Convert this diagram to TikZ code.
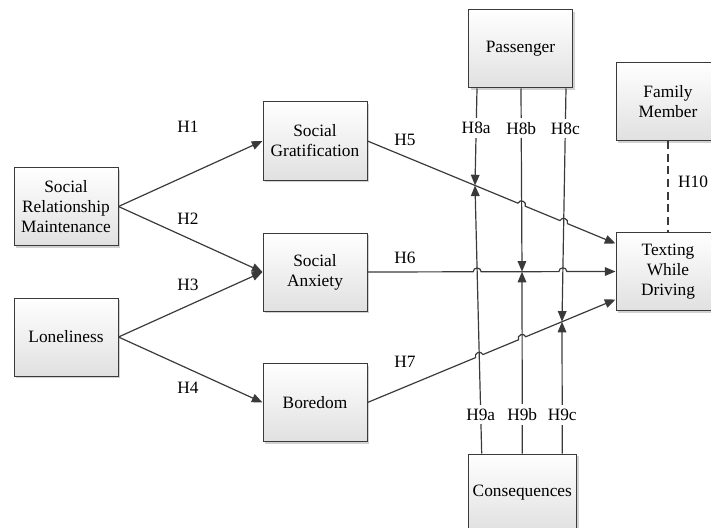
\documentclass[tikz,border=0pt]{standalone}
\usepackage{fontspec}
\setmainfont{Liberation Serif}
\usetikzlibrary{calc,intersections,shadows,arrows.meta}
\definecolor{ink}{HTML}{3A3A3A}
\tikzset{
  box/.style={draw=ink, line width=0.75pt, top color=white, bottom color=black!12,
    minimum width=78pt, minimum height=58.5pt, inner sep=1pt, align=center,
    font=\fontsize{13}{15}\selectfont,
    drop shadow={shadow xshift=1.8pt, shadow yshift=-1.8pt, fill=black!18, opacity=1}},
  conn/.style={draw=ink, line width=0.9pt},
  arr/.style={conn, -{Triangle[length=8pt,width=6.5pt]}},
  lbl/.style={font=\fontsize{13}{15}\selectfont, text=black, inner sep=1pt},
  cut/.style={lbl, fill=white, inner ysep=3pt},
  jump/.style={to path={-- ($(\tikztotarget)!#1!(\tikztostart)$) to[bend left=90, looseness=1.6] ($(\tikztotarget)!-#1!(\tikztostart)$)}},
}
\begin{document}
\begin{tikzpicture}[x=0.75pt,y=-0.75pt]
\useasboundingbox (0,0) rectangle (711,528);
\clip (0,0) rectangle (711,528);
% boxes
\node[box] (srm) at (66,206.5) {Social\\Relationship\\Maintenance};
\node[box] (lon) at (66,337) {Loneliness};
\node[box] (sg)  at (315,141) {Social\\Gratification};
\node[box] (sa)  at (315,272) {Social\\Anxiety};
\node[box] (bor) at (315,402.5) {Boredom};
\node[box] (pas) at (520.5,49) {Passenger};
\node[box] (fam) at (668,101.5) {Family\\Member};
\node[box] (twd) at (668,271.5) {Texting\\While\\Driving};
\node[box, minimum width=81pt] (con) at (522.3,493) {Consequences};

% end points on Texting While Driving
\coordinate (e5) at ($(twd.west)+(0,-28)$);
\coordinate (e7) at ($(twd.west)+(0,28)$);
% anchor points on Passenger and Consequences
\coordinate (pa) at ($(pas.south)+(-43.5,0)$);
\coordinate (pb) at ($(pas.south)+(0.5,0)$);
\coordinate (pc) at ($(pas.south)+(45.5,0)$);
\coordinate (ca) at ($(con.north)+(-40.6,0)$);
\coordinate (cb) at ($(con.north)+(0,0)$);
\coordinate (cc) at ($(con.north)+(40,0)$);

% helper paths
\path[name path=L5] (sg.east) -- (e5);
\path[name path=L6] (sa.east) -- (twd.west);
\path[name path=L7] (bor.east) -- (e7);
\path[name path=Va] (475,0) -- (475,528);
\path[name path=Vb] (522,0) -- (522,528);
\path[name path=Vc] (562,0) -- (562,528);
\path[name intersections={of=L5 and Va, by=m5}];
\path[name intersections={of=L6 and Vb, by=m6}];
\path[name intersections={of=L7 and Vc, by=m7}];
\path[name path=Pb] (pb) -- (m6);
\path[name path=Pc] (pc) -- (m7);
\path[name path=Ca] (ca) -- (m5);
\path[name path=Cb] (cb) -- (m6);
\path[name intersections={of=L5 and Pb, by=x5b}];
\path[name intersections={of=L5 and Pc, by=x5c}];
\path[name intersections={of=L6 and Ca, by=x6a}];
\path[name intersections={of=L6 and Pc, by=x6c}];
\path[name intersections={of=L7 and Ca, by=x7a}];
\path[name intersections={of=L7 and Cb, by=x7b}];

% left connectors
\draw[arr] (srm.east) -- (sg.west);
\draw[arr] (srm.east) -- (sa.west);
\draw[arr] (lon.east) -- (sa.west);
\draw[arr] (lon.east) -- (bor.west);
\node[lbl] (h1) at (188,127) {H1};
\node[lbl] (h2) at (188,219) {H2};
\node[lbl] (h3) at (188,285) {H3};
\node[lbl] (h4) at (188,388) {H4};

% moderator lines
\draw[arr] (pa) -- (m5) node[cut, pos=0.41] (h8a) {H8a};
\draw[arr] (pb) -- (m6) node[cut, pos=0.217] (h8b) {H8b};
\draw[arr] (pc) -- (m7) node[cut, pos=0.172] (h8c) {H8c};
\draw[arr] (ca) -- (m5) node[cut, pos=0.146] (h9a) {H9a};
\draw[arr] (cb) -- (m6) node[cut, pos=0.214] (h9b) {H9b};
\draw[arr] (cc) -- (m7) node[cut, pos=0.29] (h9c) {H9c};

% right connectors with line jumps
\draw[arr] (sg.east) to[jump=3pt] (x5b) to[jump=3pt] (x5c) -- (e5);
\draw[arr] (sa.east) to[jump=3pt] (x6a) to[jump=3pt] (x6c) -- (twd.west);
\draw[arr] (bor.east) to[jump=3pt] (x7a) to[jump=3pt] (x7b) -- (e7);
\node[lbl] (h5) at (405,140) {H5};
\node[lbl] (h6) at (405,258) {H6};
\node[lbl] (h7) at (405,362) {H7};

% family member
\draw[conn, dash pattern=on 6pt off 3.5pt] (fam.south) -- (twd.north);
\node[lbl] (h10) at (693,182) {H10};
\end{tikzpicture}
\end{document}
